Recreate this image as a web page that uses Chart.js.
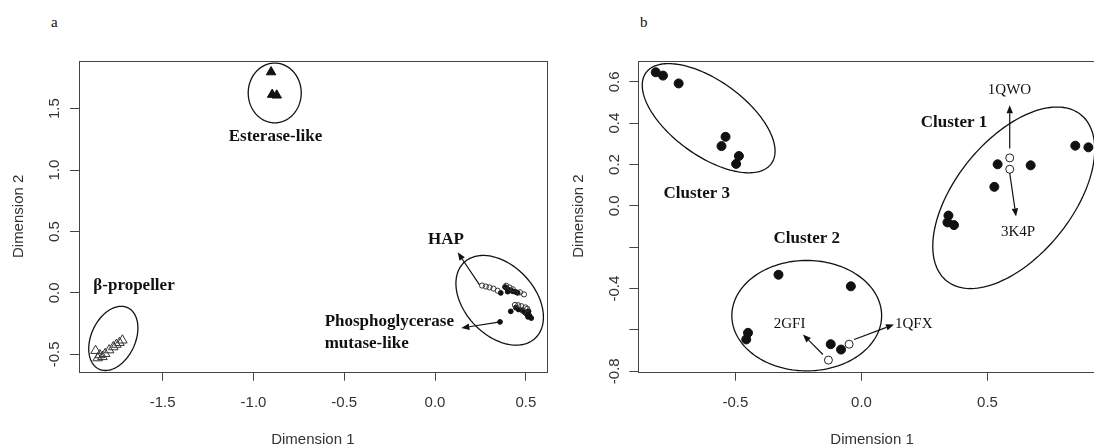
<!DOCTYPE html>
<html>
<head>
<meta charset="utf-8">
<script src="https://cdn.jsdelivr.net/npm/chart.js@4.4.1/dist/chart.umd.min.js"></script>
<style>
  html, body { margin: 0; padding: 0; background: #fff; overflow: hidden; width: 1094px; height: 448px; }
  canvas { position: absolute; top: 0; }
  #plotA { left: 0; }
  #plotB { left: 560px; }
  .tag { position: absolute; font-family: "Liberation Serif", serif; font-size: 15px; color: #111; line-height: 1; }
</style>
</head>
<body>
<div class="tag" style="left:51px;top:15px">a</div>
<div class="tag" style="left:640px;top:15px">b</div>
<canvas id="plotA" width="560" height="448"></canvas>
<canvas id="plotB" width="580" height="448"></canvas>
<script>
// ---- Panel a: MDS of all sequences (Dimension 1, Dimension 2) ----
const betaPropeller = [
  [-1.870, -0.470], [-1.858, -0.530], [-1.846, -0.505], [-1.832, -0.520], [-1.817, -0.495],
  [-1.795, -0.465], [-1.772, -0.440], [-1.755, -0.420], [-1.738, -0.405], [-1.722, -0.385]
];
const esteraseLike = [[-0.903, 1.797], [-0.897, 1.614], [-0.872, 1.608]];
const hapMembers = [
  [0.259, 0.060], [0.280, 0.052], [0.300, 0.045], [0.322, 0.035], [0.345, 0.018],
  [0.392, 0.058], [0.410, 0.044], [0.428, 0.030], [0.468, 0.005], [0.490, -0.012],
  [0.440, -0.098], [0.458, -0.100], [0.475, -0.108], [0.498, -0.118], [0.508, -0.130], [0.488, -0.150]
];
const mutaseLike = [
  [0.362, 0.000], [0.385, 0.048], [0.395, 0.038], [0.405, 0.025], [0.418, 0.020], [0.430, 0.012],
  [0.445, 0.008], [0.455, 0.000], [0.400, 0.010], [0.417, -0.150], [0.445, -0.120], [0.460, -0.135],
  [0.478, -0.140], [0.495, -0.160], [0.505, -0.172], [0.515, -0.150], [0.520, -0.185], [0.530, -0.205],
  [0.512, -0.195], [0.358, -0.236]
];
const xTicksA = [-1.5, -1.0, -0.5, 0.0, 0.5];
const yTicksA = [-0.5, 0.0, 0.5, 1.0, 1.5];
const xRangeA = [-1.961, 0.615];
const yRangeA = [-0.641, 1.887];

// group outlines: centre and two conjugate semi-axis vectors (data units)
const groupsA = [
  { c: [-0.883, 1.627], u: [0.146, 0], v: [0, 0.243] },
  { c: [-1.772, -0.370], u: [0.079, 0.250], v: [0.110, -0.076] },
  { c: [0.356, -0.060], u: [0.1954, -0.309], v: [-0.141, -0.194] }
];
const arrowsA = [
  [0.245, 0.065, 0.125, 0.330],
  [0.350, -0.238, 0.145, -0.285]
];
const labelsA = [
  { text: 'Esterase-like', at: [-0.879, 1.269], align: 'center', bold: true },
  { text: 'β-propeller', at: [-1.658, 0.058], align: 'center', bold: true },
  { text: 'HAP', at: [0.060, 0.437], align: 'center', bold: true },
  { text: 'Phosphoglycerase', at: [-0.608, -0.235], align: 'left', bold: true },
  { text: 'mutase-like', at: [-0.608, -0.416], align: 'left', bold: true }
];

// ---- Panel b: MDS of the HAP subset ----
const cluster1 = [[0.540, 0.201], [0.671, 0.196], [0.527, 0.092], [0.345, -0.047], [0.341, -0.080], [0.367, -0.093], [0.848, 0.291], [0.900, 0.283]];
const cluster2 = [[-0.329, -0.333], [-0.042, -0.389], [-0.450, -0.614], [-0.457, -0.646], [-0.122, -0.669], [-0.081, -0.695]];
const cluster3 = [[-0.816, 0.646], [-0.787, 0.630], [-0.725, 0.592], [-0.539, 0.334], [-0.555, 0.289], [-0.486, 0.241], [-0.497, 0.203]];
const structures = [[0.588, 0.232], [0.588, 0.177], [-0.049, -0.669], [-0.131, -0.746]];
const xTicksB = [-0.5, 0.0, 0.5];
const yTicksB = [-0.8, -0.6, -0.4, -0.2, 0.0, 0.2, 0.4, 0.6];
const yTickLabelsB = ['-0.8', '', '-0.4', '', '0.0', '0.2', '0.4', '0.6'];
const xRangeB = [-0.885, 0.969];
const yRangeB = [-0.802, 0.703];

const groupsB = [
  { c: [-0.606, 0.424], u: [0.2485, -0.220], v: [-0.0872, -0.146] },
  { c: [-0.217, -0.531], u: [0.297, 0], v: [0, 0.267] },
  { c: [0.604, 0.039], u: [0.266, 0.402], v: [0.180, -0.176] }
];
const arrowsB = [
  [0.588, 0.278, 0.588, 0.487],
  [0.588, 0.158, 0.613, -0.051],
  [-0.153, -0.719, -0.232, -0.622],
  [-0.029, -0.646, 0.129, -0.574]
];
const labelsB = [
  { text: 'Cluster 1', at: [0.367, 0.402], align: 'center', bold: true },
  { text: 'Cluster 2', at: [-0.217, -0.156], align: 'center', bold: true },
  { text: 'Cluster 3', at: [-0.653, 0.061], align: 'center', bold: true },
  { text: '1QWO', at: [0.587, 0.559], align: 'center', bold: false },
  { text: '3K4P', at: [0.621, -0.129], align: 'center', bold: false },
  { text: '2GFI', at: [-0.285, -0.574], align: 'center', bold: false },
  { text: '1QFX', at: [0.133, -0.574], align: 'left', bold: false }
];

const toPts = arr => arr.map(([x, y]) => ({ x, y }));
const SANS = '"Liberation Sans", Arial, sans-serif';
const SERIF = '"Liberation Serif", "Times New Roman", serif';

// outlines, arrows, group names and the frame around the plotting region
const overlay = {
  id: 'overlay',
  afterDatasetsDraw(chart, args, opts) {
    const { ctx, chartArea: a, scales: { x, y } } = chart;
    const px = v => x.getPixelForValue(v);
    const py = v => y.getPixelForValue(v);
    ctx.save();
    ctx.strokeStyle = '#111';
    ctx.lineWidth = 1.3;
    for (const e of opts.groups) {
      ctx.beginPath();
      for (let i = 0; i <= 160; i++) {
        const t = i / 160 * Math.PI * 2;
        const gx = e.c[0] + e.u[0] * Math.cos(t) + e.v[0] * Math.sin(t);
        const gy = e.c[1] + e.u[1] * Math.cos(t) + e.v[1] * Math.sin(t);
        if (i === 0) ctx.moveTo(px(gx), py(gy)); else ctx.lineTo(px(gx), py(gy));
      }
      ctx.closePath();
      ctx.stroke();
    }
    ctx.lineWidth = 1.2;
    ctx.fillStyle = '#111';
    for (const [x0, y0, x1, y1] of opts.arrows) {
      const ax = px(x0), ay = py(y0), bx = px(x1), by = py(y1);
      const ang = Math.atan2(by - ay, bx - ax);
      const head = 8, half = 3.2;
      const hx = bx - head * Math.cos(ang), hy = by - head * Math.sin(ang);
      ctx.beginPath();
      ctx.moveTo(ax, ay);
      ctx.lineTo(hx, hy);
      ctx.stroke();
      ctx.beginPath();
      ctx.moveTo(bx, by);
      ctx.lineTo(hx - half * Math.sin(ang), hy + half * Math.cos(ang));
      ctx.lineTo(hx + half * Math.sin(ang), hy - half * Math.cos(ang));
      ctx.closePath();
      ctx.fill();
    }
    ctx.textBaseline = 'middle';
    for (const l of opts.labels) {
      ctx.font = (l.bold ? 'bold 17px ' : '15px ') + SERIF;
      ctx.textAlign = l.align;
      ctx.fillText(l.text, px(l.at[0]), py(l.at[1]));
    }
    ctx.strokeStyle = '#444';
    ctx.lineWidth = 1;
    ctx.strokeRect(Math.round(a.left) + 0.5, Math.round(a.top) + 0.5,
                   Math.round(a.right - a.left), Math.round(a.bottom - a.top));
    ctx.restore();
  }
};

function axis(range, ticks, labels, isX, size) {
  return {
    type: 'linear',
    min: range[0],
    max: range[1],
    afterBuildTicks: s => { s.ticks = ticks.map(v => ({ value: v })); },
    afterFit: s => { if (isX) s.height = size; else s.width = size; },
    grid: { display: true, drawOnChartArea: false, drawTicks: true, tickLength: 9, color: '#444', lineWidth: 1 },
    border: { display: false },
    ticks: {
      autoSkip: false,
      color: '#333',
      font: { family: SANS, size: 15 },
      padding: isX ? 13 : 2,
      minRotation: isX ? 0 : 90,
      maxRotation: isX ? 0 : 90,
      crossAlign: isX ? 'near' : 'center',
      callback: (v, i) => labels ? labels[i] : Number(v).toFixed(1)
    },
    title: {
      display: true,
      text: isX ? 'Dimension 1' : 'Dimension 2',
      color: '#333',
      font: { family: SANS, size: 15, lineHeight: 1 },
      padding: isX ? { top: 0, bottom: 0.5 } : { top: 11.5, bottom: 0 }
    }
  };
}

function plot(id, datasets, opts) {
  return new Chart(document.getElementById(id), {
    type: 'scatter',
    data: { datasets },
    options: {
      responsive: false,
      animation: false,
      events: [],
      layout: { padding: { top: opts.top, right: opts.right, left: 0, bottom: 0 } },
      plugins: { legend: { display: false }, tooltip: { enabled: false }, overlay: opts.overlay },
      scales: {
        x: axis(opts.xRange, opts.xTicks, null, true, opts.xHeight),
        y: axis(opts.yRange, opts.yTicks, opts.yLabels, false, opts.yWidth)
      }
    },
    plugins: [overlay]
  });
}

const hollow = 'rgba(0,0,0,0)';

plot('plotA', [
  { label: 'β-propeller', data: toPts(betaPropeller), pointStyle: 'triangle', pointRadius: 5.5,
    backgroundColor: hollow, borderColor: '#333', borderWidth: 1 },
  { label: 'Esterase-like', data: toPts(esteraseLike), pointStyle: 'triangle', pointRadius: 5.5,
    backgroundColor: '#111', borderColor: '#111', borderWidth: 1 },
  { label: 'HAP', data: toPts(hapMembers), pointStyle: 'circle', pointRadius: 2.6,
    backgroundColor: hollow, borderColor: '#333', borderWidth: 1 },
  { label: 'Phosphoglycerase mutase-like', data: toPts(mutaseLike), pointStyle: 'circle', pointRadius: 2.4,
    backgroundColor: '#111', borderColor: '#111', borderWidth: 1 }
], {
  top: 61, right: 13.3, xHeight: 76.3, yWidth: 79,
  xRange: xRangeA, yRange: yRangeA, xTicks: xTicksA, yTicks: yTicksA, yLabels: null,
  overlay: { groups: groupsA, arrows: arrowsA, labels: labelsA }
});

plot('plotB', [
  { label: 'Cluster 1', data: toPts(cluster1), pointRadius: 4.5, backgroundColor: '#111', borderColor: '#111', borderWidth: 1 },
  { label: 'Cluster 2', data: toPts(cluster2), pointRadius: 4.5, backgroundColor: '#111', borderColor: '#111', borderWidth: 1 },
  { label: 'Cluster 3', data: toPts(cluster3), pointRadius: 4.5, backgroundColor: '#111', borderColor: '#111', borderWidth: 1 },
  { label: 'Structures', data: toPts(structures), pointRadius: 4, backgroundColor: hollow, borderColor: '#222', borderWidth: 1 }
], {
  top: 60.5, right: 34.2, xHeight: 76.3, yWidth: 78.3,
  xRange: xRangeB, yRange: yRangeB, xTicks: xTicksB, yTicks: yTicksB, yLabels: yTickLabelsB,
  overlay: { groups: groupsB, arrows: arrowsB, labels: labelsB }
});
</script>
</body>
</html>
